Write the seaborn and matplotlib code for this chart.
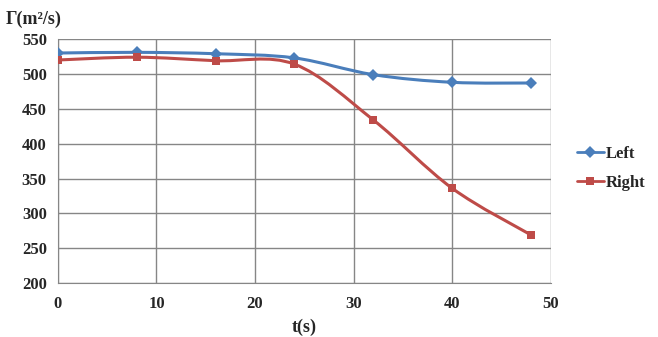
import numpy as np
import pandas as pd
import matplotlib
matplotlib.use("Agg")
import matplotlib.pyplot as plt
from matplotlib.path import Path
from matplotlib.patches import PathPatch
from matplotlib.lines import Line2D
import seaborn as sns

t = [0, 8, 16, 24, 32, 40, 48]
left = [530, 531, 529, 523, 499, 488, 487]
right = [520, 524, 519, 514, 434, 336, 269]

df = pd.DataFrame({"t": t * 2, "G": left + right,
                   "side": ["Left"] * len(t) + ["Right"] * len(t)})

sns.set_style("white")
plt.rcParams["font.family"] = ["Liberation Serif", "DejaVu Serif"]
plt.rcParams["font.weight"] = "bold"

colors = {"Left": "#4a7ebb", "Right": "#be4b48"}
markers = {"Left": "D", "Right": "s"}


def smooth_path(xs, ys):
    # Excel-like smoothed line: cubic Bezier through the points
    xs = np.asarray(xs, float)
    ys = np.asarray(ys, float)
    n = len(xs)
    verts = [(xs[0], ys[0])]
    codes = [Path.MOVETO]
    for i in range(n - 1):
        i0 = max(i - 1, 0)
        i3 = min(i + 2, n - 1)
        c1 = (xs[i] + (xs[i + 1] - xs[i0]) / 6, ys[i] + (ys[i + 1] - ys[i0]) / 6)
        c2 = (xs[i + 1] - (xs[i3] - xs[i]) / 6, ys[i + 1] - (ys[i3] - ys[i]) / 6)
        verts += [c1, c2, (xs[i + 1], ys[i + 1])]
        codes += [Path.CURVE4] * 3
    return Path(verts, codes)


fig = plt.figure(figsize=(6.58, 3.37), dpi=100)
ax = fig.add_axes([0.088, 0.160, 0.749, 0.724])

for name, vals in [("Left", left), ("Right", right)]:
    ax.add_patch(PathPatch(smooth_path(t, vals), fill=False,
                           edgecolor=colors[name], lw=2.2, zorder=3))

sns.lineplot(data=df, x="t", y="G", hue="side", style="side",
             palette=colors, markers=markers, dashes=False, lw=0,
             markersize=6, markeredgewidth=0, ax=ax, zorder=4, legend=False)

ax.set_xlim(0, 50)
ax.set_ylim(200, 550)
ax.set_xticks(range(0, 51, 10))
ax.set_yticks(range(200, 551, 50))
ax.grid(True, color="#868686", lw=1)
for s in ax.spines.values():
    s.set_visible(False)
ax.spines["left"].set_visible(True)
ax.spines["bottom"].set_visible(True)
ax.spines["left"].set_color("#868686")
ax.spines["bottom"].set_color("#868686")
ax.tick_params(axis="both", labelsize=12, length=3, color="#868686")
ax.tick_params(axis="x", pad=6)
ax.tick_params(axis="y", pad=5)
for lab in ax.get_xticklabels() + ax.get_yticklabels():
    lab.set_fontweight("bold")
ax.set_xlabel("t(s)", fontsize=13, fontweight="bold", labelpad=5)
ax.set_ylabel("")
fig.text(0.008, 0.944, "Γ(m²/s)", fontsize=13, fontweight="bold", ha="left", va="center")

handles = [Line2D([0], [0], color=colors[n], lw=2, marker=markers[n],
                  markersize=6, markeredgewidth=0) for n in ["Left", "Right"]]
fig.legend(handles, ["Left", "Right"], loc="center left",
           bbox_to_anchor=(0.877, 0.5), frameon=False,
           prop={"weight": "bold", "size": 12}, handlelength=1.6,
           handletextpad=0.15, labelspacing=0.8, borderaxespad=0, borderpad=0)

fig.savefig("out.png", dpi=100)
